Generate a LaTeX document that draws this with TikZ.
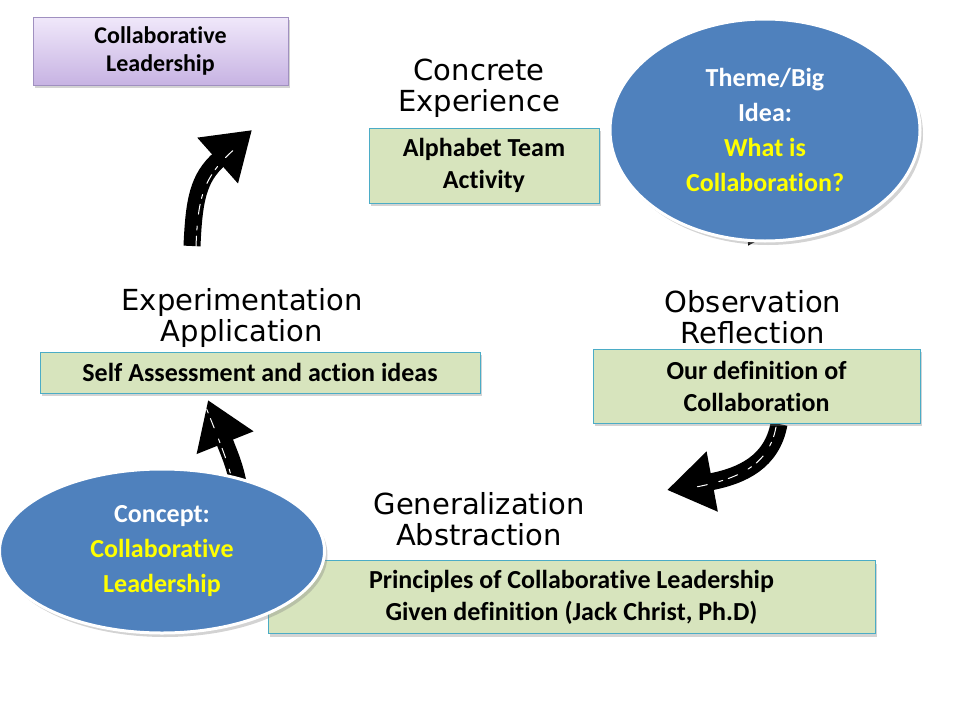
\documentclass[tikz,border=0pt]{standalone}
\usepackage{fontspec}
\setmainfont{Carlito}[Ligatures=NoCommon]
\newfontfamily\handfont{DejaVu Sans}
\usetikzlibrary{arrows.meta,positioning,shadows,shapes.geometric}
\definecolor{stepgreen}{HTML}{D7E4BD}
\definecolor{stepline}{HTML}{4BACC6}
\definecolor{ideablue}{HTML}{4F81BD}
\definecolor{ideayellow}{HTML}{FFFF00}
\definecolor{tagtop}{HTML}{F0E8FA}
\definecolor{tagbottom}{HTML}{C7B3E3}
\definecolor{tagline}{HTML}{A090C0}

\begin{document}
\begin{tikzpicture}[x=1pt, y=-1pt,
    stepbox/.style={draw=stepline, fill=stepgreen, line width=1pt, align=center, inner sep=0pt,
      font=\bfseries\fontsize{26}{32}\selectfont,
      drop shadow={shadow xshift=2pt, shadow yshift=-3pt, opacity=0.35}},
    phase/.style={align=center, inner sep=0pt, font=\handfont\fontsize{29}{31}\selectfont},
    idea/.style={ellipse, draw=white, line width=3pt, fill=ideablue, align=center, inner sep=0pt,
      font=\bfseries\fontsize{26}{35}\selectfont,
      drop shadow={shadow xshift=3pt, shadow yshift=-4pt, opacity=0.35}},
    brush/.style={draw=black, line width=17pt, -{Triangle[length=46pt, width=58pt]}},
    streak/.style={draw=white, line width=1pt, line cap=round, dash pattern=on 10pt off 6pt on 4pt off 12pt, shorten >=30pt}]
    \useasboundingbox (0,0) rectangle (960,720);

    % hand drawn arrows, behind everything else
    \coordinate (a1s) at (192,246);
    \coordinate (a1e) at (252,130);
    \coordinate (a2s) at (775,170);
    \coordinate (a2e) at (748,246);
    \coordinate (a3s) at (779,424);
    \coordinate (a3e) at (667,490);
    \coordinate (a4s) at (245,520);
    \coordinate (a4e) at (208,400);
    \draw[brush] (a1s) .. controls (194,200) and (198,178) .. (a1e);
    \draw[brush] (a2s) .. controls (772,200) .. (a2e);
    \draw[brush] (a3s) .. controls (772,462) and (742,476) .. (a3e);
    \draw[brush] (a4s) .. controls (236,470) .. (a4e);
    % brush texture
    \draw[streak, transform canvas={xshift=4pt}] (a1s) .. controls (194,200) and (198,178) .. (a1e);
    \draw[streak, transform canvas={xshift=-3pt, yshift=-3pt}] (a3s) .. controls (772,462) and (742,476) .. (a3e);
    \draw[streak, transform canvas={xshift=-5pt}, shorten >=8pt] (a4s) .. controls (236,470) .. (a4e);

    % title tag
    \node (tag) [draw=tagline, top color=tagtop, bottom color=tagbottom, line width=0.8pt,
      minimum width=255pt, minimum height=68pt, inner sep=0pt, align=center,
      font=\bfseries\fontsize{24}{28}\selectfont,
      drop shadow={shadow xshift=2pt, shadow yshift=-3pt, opacity=0.35}]
      at (160.5,51) {Collaborative\\Leadership};

    % the four stages
    \node (ce)  [phase] at (479,88)  {Concrete\\Experience};
    \node (ceb) [stepbox, minimum width=230pt, minimum height=75pt] at (484,165.5) {Alphabet Team\\Activity};

    \node (or)  [phase] at (753,317) {Observation\\Reflection};
    \node (orb) [stepbox, minimum width=327pt, minimum height=74pt] at (756.5,386) {Our definition of\\Collaboration};

    \node (ga)  [phase] at (479,519) {Generalization\\Abstraction};
    \node (gab) [stepbox, minimum width=607pt, minimum height=73pt] at (571.5,597)
      {Principles of Collaborative Leadership\\Given definition (Jack Christ, Ph.D)};

    \node (ea)  [phase] at (242,318) {Experimentation\\Application};
    \node (eab) [stepbox, minimum width=440pt, minimum height=41pt] at (260,372.5) {Self Assessment and action ideas};

    % big ideas
    \node (theme) [idea, minimum width=310pt, minimum height=222pt] at (765,130)
      {\textcolor{white}{Theme/Big}\\\textcolor{white}{Idea:}\\\textcolor{ideayellow}{What is}\\\textcolor{ideayellow}{Collaboration?}};
    \node (concept) [idea, minimum width=325pt, minimum height=164pt] at (162,551)
      {\textcolor{white}{Concept:}\\\textcolor{ideayellow}{Collaborative}\\\textcolor{ideayellow}{Leadership}};
\end{tikzpicture}
\end{document}
